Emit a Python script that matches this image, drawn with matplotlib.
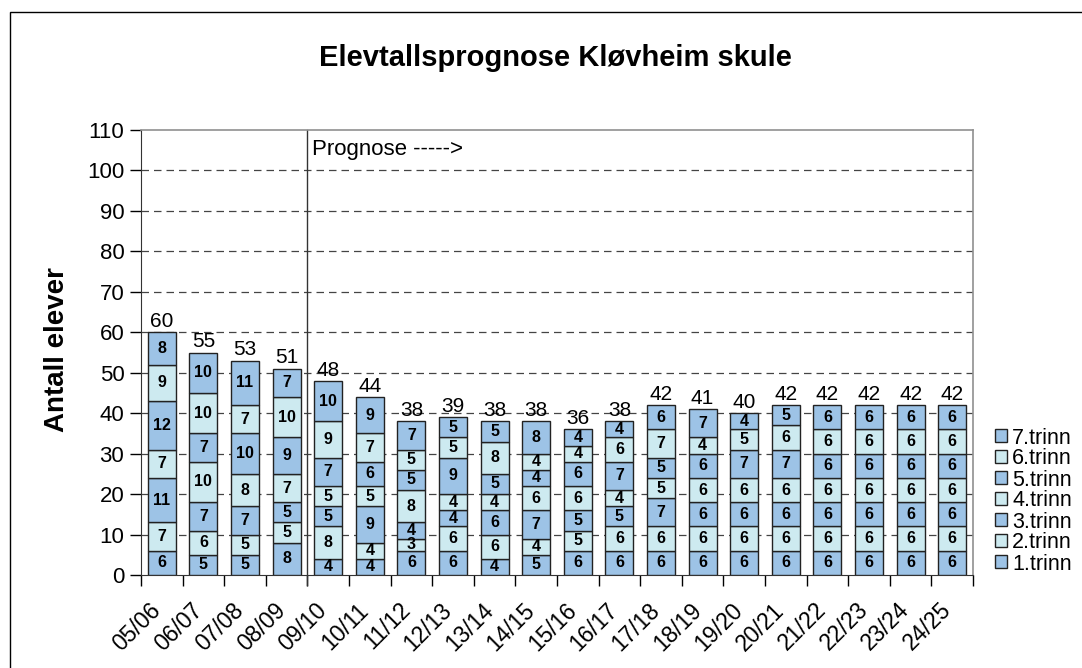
import numpy as np
import matplotlib
matplotlib.use('Agg')
import matplotlib.pyplot as plt
import matplotlib.transforms as mtransforms
from matplotlib.patches import Patch, Rectangle

plt.rcParams['font.family'] = ['Liberation Sans', 'DejaVu Sans']

years = ['05/06', '06/07', '07/08', '08/09', '09/10', '10/11', '11/12', '12/13',
         '13/14', '14/15', '15/16', '16/17', '17/18', '18/19', '19/20', '20/21',
         '21/22', '22/23', '23/24', '24/25']
grades = ['1.trinn', '2.trinn', '3.trinn', '4.trinn', '5.trinn', '6.trinn', '7.trinn']

# elever per trinn, ett skoleår per rad (1.trinn ... 7.trinn)
counts = [
    [6, 7, 11, 7, 12, 9, 8],
    [5, 6, 7, 10, 7, 10, 10],
    [5, 5, 7, 8, 10, 7, 11],
    [8, 5, 5, 7, 9, 10, 7],
    [4, 8, 5, 5, 7, 9, 10],
    [4, 4, 9, 5, 6, 7, 9],
    [6, 3, 4, 8, 5, 5, 7],
    [6, 6, 4, 4, 9, 5, 5],
    [4, 6, 6, 4, 5, 8, 5],
    [5, 4, 7, 6, 4, 4, 8],
    [6, 5, 5, 6, 6, 4, 4],
    [6, 6, 5, 4, 7, 6, 4],
    [6, 6, 7, 5, 5, 7, 6],
    [6, 6, 6, 6, 6, 4, 7],
    [6, 6, 6, 6, 7, 5, 4],
    [6, 6, 6, 6, 7, 6, 5],
    [6, 6, 6, 6, 6, 6, 6],
    [6, 6, 6, 6, 6, 6, 6],
    [6, 6, 6, 6, 6, 6, 6],
    [6, 6, 6, 6, 6, 6, 6],
]
data = np.array(counts).T

dark = '#9DC3E6'
light = '#CDEAF0'
colors = [dark if i % 2 == 0 else light for i in range(len(grades))]

fig = plt.figure(figsize=(10.82, 6.68), dpi=100)
ax = fig.add_axes([141/1082, 1-575/668, (973-141)/1082, (575-130)/668])

x = np.arange(len(years))
bottom = np.zeros(len(years))
for i, g in enumerate(grades):
    ax.bar(x, data[i], 0.67, bottom=bottom, color=colors[i],
           edgecolor='#222222', linewidth=1.0, zorder=3, label=g)
    for xi, b, v in zip(x, bottom, data[i]):
        ax.text(xi, b + v / 2, str(v), ha='center', va='center',
                fontsize=11.5, fontweight='bold', zorder=4)
    bottom += data[i]

totals = data.sum(axis=0)
for xi, t in zip(x, totals):
    ax.text(xi, t + 0.3, str(t), ha='center', va='bottom', fontsize=15, zorder=4)

ax.set_xlim(-0.5, len(years) - 0.5)
ax.set_ylim(0, 110)
ax.set_yticks(range(0, 111, 10))
ax.tick_params(axis='y', labelsize=16, length=8, width=1, direction='out', pad=4)
for yv in range(10, 101, 10):
    ax.axhline(yv, color='#444444', linestyle=(0, (6, 4)), linewidth=0.9, zorder=1)

ax.set_xticks(x)
ax.set_xticklabels(years, rotation=45, ha='right', va='top', rotation_mode='anchor',
                   fontsize=16.5)
ax.tick_params(axis='x', length=0, pad=14)
shift = mtransforms.ScaledTranslation(-0.13, -0.04, fig.dpi_scale_trans)
for lbl in ax.get_xticklabels():
    lbl.set_transform(lbl.get_transform() + shift)
ax.set_xticks(np.arange(-0.5, len(years)), minor=True)
ax.tick_params(axis='x', which='minor', length=8, width=1, direction='out')

for s in ['top', 'right']:
    ax.spines[s].set_color('#909090')
    ax.spines[s].set_linewidth(1.2)
ax.spines['left'].set_color('#333333')
ax.spines['bottom'].set_color('#333333')

ax.plot([3.5, 3.5], [-2.5, 110], color='#333333', linewidth=1.0, zorder=2, clip_on=False)
ax.text(3.62, 105.3, 'Prognose ----->', fontsize=16, ha='left', va='center')

fig.text(555/1082, 1-58/668, 'Elevtallsprognose Kløvheim skule', ha='center',
         va='center', fontsize=21, fontweight='bold')
fig.text(57/1082, 1-350/668, 'Antall elever', rotation=90, ha='center', va='center',
         fontsize=20, fontweight='bold')

handles = [Patch(facecolor=colors[i], edgecolor='#222222', linewidth=1.0)
           for i in range(len(grades))][::-1]
fig.legend(handles, grades[::-1], loc='center left',
           bbox_to_anchor=(995/1082, 1-501/668), frameon=False, fontsize=15.5,
           handlelength=0.55, handleheight=0.55, handletextpad=0.25,
           labelspacing=0.0, borderaxespad=0, borderpad=0)

fig.patches.append(Rectangle((10/1082, -0.1), 1.2, 1-12/668+0.1,
                             transform=fig.transFigure, fill=False,
                             edgecolor='black', linewidth=1.0))

fig.savefig('out.png', dpi=100)
